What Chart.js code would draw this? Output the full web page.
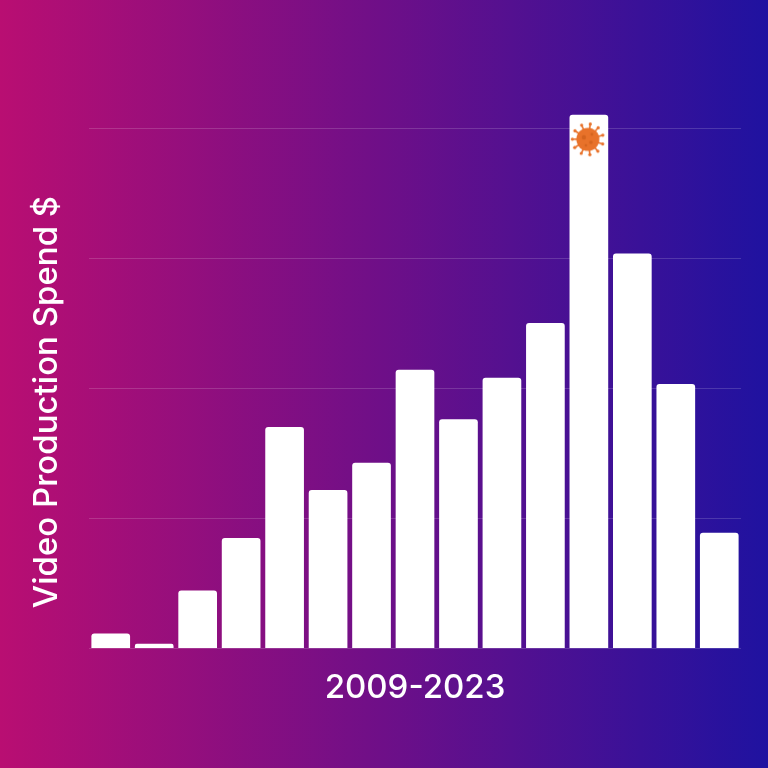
<!DOCTYPE html>
<html>
<head>
<meta charset="utf-8">
<title>Video Production Spend</title>
<script src="https://cdn.jsdelivr.net/npm/chart.js@4"></script>
<style>
	html, body { margin: 0; padding: 0; width: 768px; height: 768px; overflow: hidden; }
	body { background: linear-gradient(to right, #b90e72, #6e0f88 50%, #1f12a0); }
	#chart { display: block; }
</style>
</head>
<body>
<canvas id="chart" width="768" height="768"></canvas>
<script>
const years = ["2009", "2010", "2011", "2012", "2013", "2014", "2015", "2016", "2017", "2018", "2019", "2020", "2021", "2022", "2023"];
const spend = [0.115, 0.035, 0.445, 0.85, 1.705, 1.22, 1.43, 2.145, 1.765, 2.085, 2.505, 4.11, 3.04, 2.035, 0.89];
// virus marker sits inside the 2020 bar
const marker = [null, null, null, null, null, null, null, null, null, null, null, 3.92, null, null, null];
const xTitle = "2009-2023";
const yTitle = "Video Production Spend $";

const labelFont = '500 33px Inter';

function virusIcon() {
	var c = document.createElement('canvas');
	c.width = 38;
	c.height = 38;
	var g = c.getContext('2d');
	g.translate(18, 19);
	g.strokeStyle = '#e8722a';
	g.fillStyle = '#e8722a';
	g.lineWidth = 1.6;
	for (var i = 0; i < 11; i++) {
		var a = i * Math.PI * 2 / 11 + 0.3;
		g.beginPath();
		g.moveTo(Math.cos(a) * 10, Math.sin(a) * 10);
		g.lineTo(Math.cos(a) * 15, Math.sin(a) * 15);
		g.stroke();
		g.beginPath();
		g.arc(Math.cos(a) * 15.5, Math.sin(a) * 15.5, 1.6, 0, Math.PI * 2);
		g.fill();
	}
	g.beginPath();
	g.arc(0, 0, 11.5, 0, Math.PI * 2);
	g.fill();
	g.fillStyle = '#d4641f';
	[[-4, -2, 2.2], [3, 3, 1.8], [4, -5, 1.4], [-2, 6, 1.3]].forEach(function(s) {
		g.beginPath();
		g.arc(s[0], s[1], s[2], 0, Math.PI * 2);
		g.fill();
	});
	return c;
}

const ctx = document.getElementById('chart');
const chart = new Chart(ctx, {
	type: 'bar',
	data: {
		labels: years,
		datasets: [{
			type: 'line',
			data: marker,
			showLine: false,
			pointStyle: virusIcon(),
			order: 0
		}, {
			data: spend,
			backgroundColor: '#ffffff',
			borderRadius: { topLeft: 3, topRight: 3 },
			borderSkipped: 'bottom',
			barPercentage: 0.89,
			categoryPercentage: 1,
			order: 1
		}]
	},
	options: {
		responsive: false,
		animation: false,
		layout: {
			padding: { left: 89, right: 27, top: 64, bottom: 60 }
		},
		scales: {
			x: {
				grid: { display: false },
				border: { display: false },
				ticks: { display: false },
				title: {
					display: true,
					text: xTitle,
					color: '#ffffff',
					font: { family: 'Inter', size: 33, weight: '500' },
					padding: { top: 12, bottom: 0 }
				}
			},
			y: {
				min: 0,
				max: 4.5,
				afterBuildTicks: function(axis) {
					axis.ticks = axis.ticks.filter(function(t) { return t.value <= 4; });
				},
				ticks: { display: false, stepSize: 1 },
				grid: { color: 'rgba(255,255,255,0.16)', lineWidth: 1, drawTicks: false },
				border: { display: false }
			}
		},
		plugins: {
			legend: { display: false },
			tooltip: { enabled: false }
		}
	},
	plugins: [{
		// y title is not centred on the plot, so it is placed by hand
		afterDraw: function(chart) {
			var c = chart.ctx;
			c.save();
			c.translate(47, 402);
			c.rotate(-Math.PI / 2);
			c.font = labelFont;
			c.fillStyle = '#ffffff';
			c.textAlign = 'center';
			c.textBaseline = 'middle';
			c.fillText(yTitle, 0, 0);
			c.restore();
		}
	}]
});
</script>
</body>
</html>
